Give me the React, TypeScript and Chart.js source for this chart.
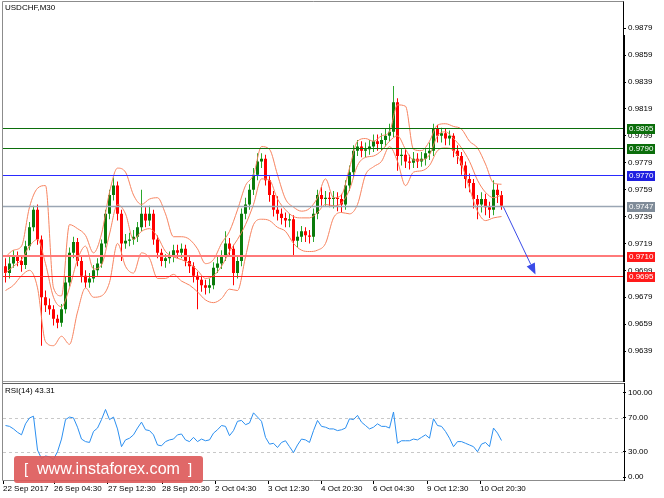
import React, { useEffect, useRef } from 'react';
import { Chart, registerables } from 'chart.js';

Chart.register(...registerables);

const SYMBOL_TITLE = 'USDCHF,M30';
const RSI_TITLE = 'RSI(14) 43.31';

const OPENS = [
  0.9702, 0.9697, 0.9704, 0.9709, 0.9706, 0.9703, 0.9717, 0.9731, 0.9744, 0.9722,
  0.9679, 0.9673, 0.9670, 0.9663, 0.9660, 0.9670, 0.9690, 0.9712, 0.9720, 0.9706,
  0.9695, 0.9690, 0.9693, 0.9699, 0.9704, 0.9719, 0.9741, 0.9755, 0.9762, 0.9741,
  0.9719, 0.9721, 0.9722, 0.9724, 0.9731, 0.9741, 0.9736, 0.9741, 0.9722, 0.9712,
  0.9706, 0.9708, 0.9709, 0.9714, 0.9712, 0.9715, 0.9706, 0.9702, 0.9695, 0.9692,
  0.9688, 0.9686, 0.9688, 0.9701, 0.9704, 0.9709, 0.9719, 0.9715, 0.9697, 0.9706,
  0.9741, 0.9748, 0.9759, 0.9770, 0.9780, 0.9782, 0.9766, 0.9755, 0.9744, 0.9741,
  0.9738, 0.9736, 0.9737, 0.9721, 0.9724, 0.9728, 0.9725, 0.9724, 0.9741, 0.9755,
  0.9752, 0.9753, 0.9752, 0.9753, 0.9752, 0.9748, 0.9762, 0.9772, 0.9788, 0.9791,
  0.9788, 0.9789, 0.9791, 0.9795, 0.9793, 0.9796, 0.9799, 0.9802, 0.9824, 0.9784,
  0.9785, 0.9780, 0.9779, 0.9782, 0.9780, 0.9782, 0.9786, 0.9788, 0.9804, 0.9799,
  0.9801, 0.9797, 0.9799, 0.9788, 0.9784, 0.9777, 0.9767, 0.9764, 0.9752, 0.9748,
  0.9752, 0.9746, 0.9744, 0.9759, 0.9755,
];
const HIGHS = [
  0.9708, 0.9709, 0.9714, 0.9713, 0.9709, 0.9721, 0.9735, 0.9747, 0.9748, 0.9725,
  0.9684, 0.9678, 0.9673, 0.9666, 0.9674, 0.9694, 0.9716, 0.9724, 0.9723, 0.9709,
  0.9699, 0.9697, 0.9703, 0.9708, 0.9722, 0.9744, 0.9759, 0.9768, 0.9765, 0.9744,
  0.9726, 0.9727, 0.9729, 0.9735, 0.9759, 0.9746, 0.9747, 0.9744, 0.9725, 0.9715,
  0.9711, 0.9713, 0.9718, 0.9718, 0.9719, 0.9718, 0.9710, 0.9705, 0.9698, 0.9695,
  0.9692, 0.9693, 0.9705, 0.9709, 0.9714, 0.9728, 0.9723, 0.9718, 0.9710, 0.9745,
  0.9753, 0.9763, 0.9775, 0.9786, 0.9786, 0.9785, 0.9769, 0.9758, 0.9754, 0.9745,
  0.9742, 0.9741, 0.9740, 0.9728, 0.9732, 0.9731, 0.9729, 0.9745, 0.9759, 0.9761,
  0.9758, 0.9757, 0.9758, 0.9757, 0.9756, 0.9766, 0.9777, 0.9792, 0.9796, 0.9795,
  0.9794, 0.9796, 0.9800, 0.9800, 0.9801, 0.9804, 0.9808, 0.9836, 0.9827, 0.9790,
  0.9789, 0.9785, 0.9787, 0.9786, 0.9787, 0.9790, 0.9794, 0.9808, 0.9807, 0.9805,
  0.9804, 0.9803, 0.9801, 0.9792, 0.9787, 0.9780, 0.9771, 0.9767, 0.9755, 0.9757,
  0.9756, 0.9750, 0.9766, 0.9763, 0.9758,
];
const LOWS = [
  0.9690, 0.9693, 0.9701, 0.9702, 0.9698, 0.9700, 0.9714, 0.9728, 0.9718, 0.9643,
  0.9668, 0.9666, 0.9658, 0.9656, 0.9657, 0.9667, 0.9687, 0.9708, 0.9702, 0.9690,
  0.9686, 0.9686, 0.9690, 0.9695, 0.9701, 0.9716, 0.9737, 0.9751, 0.9736, 0.9706,
  0.9715, 0.9717, 0.9718, 0.9720, 0.9728, 0.9731, 0.9732, 0.9718, 0.9708, 0.9702,
  0.9701, 0.9704, 0.9705, 0.9708, 0.9708, 0.9702, 0.9697, 0.9690, 0.9670, 0.9683,
  0.9681, 0.9682, 0.9685, 0.9697, 0.9700, 0.9706, 0.9710, 0.9688, 0.9693, 0.9702,
  0.9737, 0.9744, 0.9755, 0.9766, 0.9775, 0.9762, 0.9750, 0.9739, 0.9736, 0.9733,
  0.9731, 0.9731, 0.9710, 0.9716, 0.9720, 0.9720, 0.9719, 0.9720, 0.9737, 0.9747,
  0.9747, 0.9746, 0.9745, 0.9743, 0.9742, 0.9744, 0.9758, 0.9768, 0.9784, 0.9783,
  0.9783, 0.9785, 0.9787, 0.9788, 0.9788, 0.9791, 0.9795, 0.9798, 0.9773, 0.9777,
  0.9775, 0.9774, 0.9775, 0.9775, 0.9776, 0.9777, 0.9781, 0.9784, 0.9794, 0.9794,
  0.9792, 0.9792, 0.9783, 0.9778, 0.9770, 0.9760, 0.9757, 0.9745, 0.9737, 0.9742,
  0.9740, 0.9738, 0.9740, 0.9749, 0.9744,
];
const CLOSES = [
  0.9697, 0.9704, 0.9709, 0.9706, 0.9703, 0.9717, 0.9731, 0.9744, 0.9722, 0.9679,
  0.9673, 0.9670, 0.9663, 0.9660, 0.9670, 0.9690, 0.9712, 0.9720, 0.9706, 0.9695,
  0.9690, 0.9693, 0.9699, 0.9704, 0.9719, 0.9741, 0.9755, 0.9762, 0.9741, 0.9719,
  0.9721, 0.9722, 0.9724, 0.9731, 0.9741, 0.9736, 0.9741, 0.9722, 0.9712, 0.9706,
  0.9708, 0.9709, 0.9714, 0.9712, 0.9715, 0.9706, 0.9702, 0.9695, 0.9692, 0.9688,
  0.9686, 0.9688, 0.9701, 0.9704, 0.9709, 0.9719, 0.9715, 0.9697, 0.9706, 0.9741,
  0.9748, 0.9759, 0.9770, 0.9780, 0.9782, 0.9766, 0.9755, 0.9744, 0.9741, 0.9738,
  0.9736, 0.9737, 0.9721, 0.9724, 0.9728, 0.9725, 0.9724, 0.9741, 0.9755, 0.9752,
  0.9753, 0.9752, 0.9753, 0.9752, 0.9748, 0.9762, 0.9772, 0.9788, 0.9791, 0.9788,
  0.9789, 0.9791, 0.9795, 0.9793, 0.9796, 0.9799, 0.9802, 0.9824, 0.9784, 0.9785,
  0.9780, 0.9779, 0.9782, 0.9780, 0.9782, 0.9786, 0.9788, 0.9804, 0.9799, 0.9801,
  0.9797, 0.9799, 0.9788, 0.9784, 0.9777, 0.9767, 0.9764, 0.9752, 0.9748, 0.9752,
  0.9746, 0.9744, 0.9759, 0.9755, 0.9747,
];

// Bollinger bands, one reading every second candle
const BB_UPPER = [
  0.9709, 0.9714, 0.9717, 0.9746, 0.9760, 0.9762, 0.9686, 0.9680, 0.9733, 0.9730,
  0.9725, 0.9712, 0.9726, 0.9757, 0.9775, 0.9772, 0.9755, 0.9748, 0.9752, 0.9753,
  0.9741, 0.9724, 0.9724, 0.9722, 0.9715, 0.9704, 0.9707, 0.9719, 0.9728, 0.9744,
  0.9762, 0.9770, 0.9791, 0.9789, 0.9770, 0.9752, 0.9746, 0.9743, 0.9745, 0.9753,
  0.9767, 0.9753, 0.9755, 0.9775, 0.9795, 0.9797, 0.9795, 0.9799, 0.9802, 0.9822,
  0.9821, 0.9789, 0.9788, 0.9795, 0.9807, 0.9808, 0.9806, 0.9804, 0.9795, 0.9790,
  0.9778, 0.9764, 0.9763,
];
const BB_MIDDLE = [
  0.9697, 0.9702, 0.9707, 0.9717, 0.9722, 0.9704, 0.9679, 0.9672, 0.9686, 0.9707,
  0.9717, 0.9700, 0.9703, 0.9726, 0.9748, 0.9741, 0.9722, 0.9728, 0.9730, 0.9724,
  0.9713, 0.9709, 0.9707, 0.9704, 0.9699, 0.9693, 0.9695, 0.9702, 0.9713, 0.9722,
  0.9733, 0.9748, 0.9767, 0.9766, 0.9752, 0.9744, 0.9739, 0.9738, 0.9738, 0.9742,
  0.9748, 0.9747, 0.9749, 0.9759, 0.9777, 0.9783, 0.9784, 0.9788, 0.9795, 0.9799,
  0.9789, 0.9781, 0.9781, 0.9785, 0.9799, 0.9802, 0.9797, 0.9790, 0.9780, 0.9766,
  0.9757, 0.9753, 0.9755,
];
const BB_LOWER = [
  0.9684, 0.9688, 0.9695, 0.9699, 0.9686, 0.9646, 0.9643, 0.9650, 0.9644, 0.9668,
  0.9686, 0.9679, 0.9680, 0.9690, 0.9719, 0.9702, 0.9697, 0.9712, 0.9708, 0.9693,
  0.9693, 0.9696, 0.9691, 0.9688, 0.9683, 0.9677, 0.9675, 0.9678, 0.9685, 0.9684,
  0.9709, 0.9733, 0.9737, 0.9736, 0.9731, 0.9728, 0.9719, 0.9714, 0.9713, 0.9714,
  0.9719, 0.9738, 0.9742, 0.9741, 0.9748, 0.9770, 0.9776, 0.9780, 0.9791, 0.9780,
  0.9762, 0.9772, 0.9773, 0.9777, 0.9788, 0.9790, 0.9788, 0.9778, 0.9760, 0.9743,
  0.9736, 0.9738, 0.9739,
];

const RSI = [
  61, 60, 57, 53, 50, 63, 70, 72, 32, 22,
  25, 24, 21, 30, 45, 68, 71, 70, 59, 45,
  42, 41, 54, 58, 68, 80, 68, 71, 57, 36,
  44, 46, 50, 58, 65, 56, 55, 50, 38, 37,
  42, 44, 45, 50, 51, 44, 42, 47, 42, 45,
  43, 44, 52, 56, 61, 60, 49, 55, 66, 67,
  62, 64, 76, 71, 66, 47, 39, 40, 35, 41,
  43, 36, 29, 38, 45, 44, 41, 55, 67, 60,
  59, 57, 57, 55, 56, 58, 69, 68, 73, 65,
  61, 57, 59, 63, 60, 60, 58, 77, 40, 43,
  43, 43, 45, 44, 47, 50, 46, 69, 61, 60,
  54, 46, 36, 42, 42, 40, 38, 36, 30, 39,
  41, 36, 58, 52, 43.31,
];

const PRICE_TICKS = [0.9879, 0.9859, 0.9839, 0.9819, 0.9799, 0.9779, 0.9759, 0.9739, 0.9719, 0.9699, 0.9679, 0.9659, 0.9639];
const RSI_TICKS = [0, 30, 70, 100];
const RSI_GUIDES = [30, 70];
const TIME_LABELS = ['22 Sep 2017', '26 Sep 04:30', '27 Sep 12:30', '28 Sep 20:30', '2 Oct 04:30', '3 Oct 12:30', '4 Oct 20:30', '6 Oct 04:30', '9 Oct 12:30', '10 Oct 20:30'];
const TIME_TICK_INDEX = [-0.625, 12.125, 25.625, 39.125, 52.375, 65.625, 78.875, 91.875, 105.375, 118.625];

const LEVEL_PRICES = [0.9805, 0.9790, 0.9770, 0.9747, 0.9710, 0.9695];
const ARROW_FROM = [124.5, 0.9746];
const ARROW_TO = [132.5, 0.9696];

// axis ranges
const X_MIN = -0.625;
const X_MAX = 154.375;
const PRICE_MIN = 0.96203;
const PRICE_MAX = 0.989494;
const RSI_MIN = -3.4;
const RSI_MAX = 105.6;

// styles
const FONT = '"Liberation Sans", Arial, sans-serif';
const LEVEL_STYLES = [
  { line: '#0b6e0b', box: '#0b6e0b', width: 1 },
  { line: '#0b6e0b', box: '#0b6e0b', width: 1 },
  { line: '#2a2aff', box: '#1f1fe0', width: 1 },
  { line: '#9aa6b4', box: '#7f8b98', width: 1.5 },
  { line: '#ff7a7a', box: '#ff1a1a', width: 2 },
  { line: '#ff2020', box: '#ff1a1a', width: 1 },
];
const BULL_BODY = '#0b7a0b';
const BULL_WICK = '#2ca82c';
const BEAR = '#ff0000';
const BAND_COLOR = '#f7835f';
const RSI_COLOR = '#2b8ff0';

function MainChart() {
  const ref = useRef<HTMLCanvasElement | null>(null);
  useEffect(() => {
    const canvas = ref.current;
    if (!canvas) return;
    const up = CLOSES.map((c, i) => c >= OPENS[i]);
    const wickData = CLOSES.map((c, i) => ({ x: i, y: [LOWS[i], HIGHS[i]] }));
    const bodyData = CLOSES.map((c, i) => ({ x: i, y: [OPENS[i], c] }));
    const band = (arr: number[]) => arr.map((v, k) => ({ x: k * 2, y: v }));
    const lineDs = (arr: number[]) => ({
      type: 'line' as const,
      data: band(arr),
      borderColor: BAND_COLOR,
      borderWidth: 1,
      pointRadius: 0,
      cubicInterpolationMode: 'monotone' as const,
      order: 0,
    });

    const overlay = {
      id: 'mainOverlay',
      afterDatasetsDraw(chart: any) {
        const { ctx, chartArea: a, scales } = chart;
        const xs = scales.x;
        const ys = scales.y;
        ctx.save();
        ctx.beginPath();
        ctx.rect(a.left, a.top, a.right - a.left, a.bottom - a.top);
        ctx.clip();
        LEVEL_PRICES.forEach((p, i) => {
          const st = LEVEL_STYLES[i];
          const py = Math.round(ys.getPixelForValue(p)) + (st.width === 2 ? 0 : 0.5);
          ctx.strokeStyle = st.line;
          ctx.lineWidth = st.width;
          ctx.beginPath();
          ctx.moveTo(a.left, py);
          ctx.lineTo(a.right, py);
          ctx.stroke();
        });
        // arrow
        const x0 = xs.getPixelForValue(ARROW_FROM[0]);
        const y0 = ys.getPixelForValue(ARROW_FROM[1]);
        const x1 = xs.getPixelForValue(ARROW_TO[0]);
        const y1 = ys.getPixelForValue(ARROW_TO[1]);
        const ang = Math.atan2(y1 - y0, x1 - x0);
        const hl = 11;
        const hw = 4.5;
        const bx = x1 - hl * Math.cos(ang);
        const by = y1 - hl * Math.sin(ang);
        ctx.strokeStyle = '#3a4be8';
        ctx.fillStyle = '#3a4be8';
        ctx.lineWidth = 1;
        ctx.beginPath();
        ctx.moveTo(x0, y0);
        ctx.lineTo(bx, by);
        ctx.stroke();
        ctx.beginPath();
        ctx.moveTo(x1, y1);
        ctx.lineTo(bx + hw * Math.sin(ang), by - hw * Math.cos(ang));
        ctx.lineTo(bx - hw * Math.sin(ang), by + hw * Math.cos(ang));
        ctx.closePath();
        ctx.fill();
        ctx.restore();
      },
      afterDraw(chart: any) {
        const { ctx, chartArea: a, scales } = chart;
        const ys = scales.y;
        ctx.save();
        // frame
        ctx.strokeStyle = '#8c8c8c';
        ctx.lineWidth = 1;
        ctx.beginPath();
        ctx.moveTo(2.5, 381.5);
        ctx.lineTo(2.5, 1.5);
        ctx.lineTo(a.right + 1, 1.5);
        ctx.stroke();
        ctx.strokeStyle = '#a0a0a0';
        ctx.beginPath();
        ctx.moveTo(2, 381.5);
        ctx.lineTo(a.right + 1, 381.5);
        ctx.stroke();
        ctx.strokeStyle = '#000';
        ctx.beginPath();
        ctx.moveTo(a.right + 0.5, 1.5);
        ctx.lineTo(a.right + 0.5, 35);
        ctx.stroke();
        ctx.lineWidth = 2;
        ctx.beginPath();
        ctx.moveTo(a.right + 1, 35);
        ctx.lineTo(a.right + 1, 382);
        ctx.stroke();
        // level boxes
        ctx.font = `8px ${FONT}`;
        ctx.textBaseline = 'middle';
        ctx.textAlign = 'left';
        LEVEL_PRICES.forEach((p, i) => {
          const st = LEVEL_STYLES[i];
          const py = Math.round(ys.getPixelForValue(p));
          ctx.fillStyle = st.box;
          ctx.fillRect(a.right + 4, py - 4, 28, 10);
          ctx.fillStyle = '#ffffff';
          ctx.fillText(p.toFixed(4), a.right + 6, py + 1);
        });
        // title
        ctx.fillStyle = '#000';
        ctx.textBaseline = 'top';
        ctx.fillText(SYMBOL_TITLE, 5, 4);
        ctx.restore();
      },
    };

    const chart = new Chart(canvas, {
      type: 'bar',
      data: {
        datasets: [
          lineDs(BB_UPPER),
          lineDs(BB_MIDDLE),
          lineDs(BB_LOWER),
          {
            type: 'bar',
            data: bodyData as any,
            backgroundColor: up.map((u) => (u ? BULL_BODY : BEAR)),
            borderWidth: 0,
            barThickness: 3,
            grouped: false,
            inflateAmount: 0,
            order: 1,
          } as any,
          {
            type: 'bar',
            data: wickData as any,
            backgroundColor: up.map((u) => (u ? BULL_WICK : BEAR)),
            borderWidth: 0,
            barThickness: 1,
            grouped: false,
            inflateAmount: 0,
            order: 2,
          } as any,
        ],
      },
      options: {
        responsive: false,
        maintainAspectRatio: false,
        animation: false,
        devicePixelRatio: 1,
        events: [],
        layout: { padding: { left: 3, right: 0, top: 2, bottom: 2 } },
        plugins: { legend: { display: false }, tooltip: { enabled: false } },
        scales: {
          x: { type: 'linear', min: X_MIN, max: X_MAX, display: false, offset: false },
          y: {
            position: 'right',
            min: PRICE_MIN,
            max: PRICE_MAX,
            afterFit: (s: any) => { s.width = 41; },
            afterBuildTicks: (s: any) => { s.ticks = PRICE_TICKS.map((v) => ({ value: v })); },
            ticks: {
              autoSkip: false,
              padding: 2,
              color: '#000',
              font: { size: 8, family: FONT },
              callback: (v: any) => Number(v).toFixed(4),
            },
            grid: { drawOnChartArea: false, drawTicks: true, tickLength: 3, color: '#000' },
            border: { display: false },
          },
        },
      } as any,
      plugins: [overlay],
    });
    return () => chart.destroy();
  }, []);
  return (
    <canvas
      ref={ref}
      width={664}
      height={383}
      style={{ position: 'absolute', left: 0, top: 0, width: 664, height: 383 }}
    />
  );
}

function RsiChart() {
  const ref = useRef<HTMLCanvasElement | null>(null);
  useEffect(() => {
    const canvas = ref.current;
    if (!canvas) return;
    const overlay = {
      id: 'rsiOverlay',
      beforeDatasetsDraw(chart: any) {
        const { ctx, chartArea: a, scales } = chart;
        ctx.save();
        ctx.strokeStyle = '#c8c8c8';
        ctx.lineWidth = 1;
        ctx.setLineDash([3, 3]);
        RSI_GUIDES.forEach((v) => {
          const py = Math.round(scales.y.getPixelForValue(v)) + 0.5;
          ctx.beginPath();
          ctx.moveTo(a.left, py);
          ctx.lineTo(a.right, py);
          ctx.stroke();
        });
        ctx.restore();
      },
      afterDraw(chart: any) {
        const { ctx, chartArea: a } = chart;
        ctx.save();
        ctx.strokeStyle = '#606060';
        ctx.lineWidth = 1;
        ctx.beginPath();
        ctx.moveTo(2, 2.5);
        ctx.lineTo(a.right + 1, 2.5);
        ctx.stroke();
        ctx.strokeStyle = '#8c8c8c';
        ctx.beginPath();
        ctx.moveTo(2.5, 0);
        ctx.lineTo(2.5, a.bottom + 0.5);
        ctx.lineTo(a.right + 1.5, a.bottom + 0.5);
        ctx.stroke();
        ctx.strokeStyle = '#000';
        ctx.beginPath();
        ctx.moveTo(a.right + 1.5, 2);
        ctx.lineTo(a.right + 1.5, a.bottom + 1);
        ctx.stroke();
        ctx.fillStyle = '#000';
        ctx.font = `8px ${FONT}`;
        ctx.textBaseline = 'top';
        ctx.textAlign = 'left';
        ctx.fillText(RSI_TITLE, 5, 6);
        // watermark
        const wx = 14, wy = 75, ww = 189, wh = 27, r = 3;
        ctx.fillStyle = 'rgba(221, 88, 88, 0.9)';
        ctx.beginPath();
        ctx.moveTo(wx + r, wy);
        ctx.lineTo(wx + ww - r, wy);
        ctx.quadraticCurveTo(wx + ww, wy, wx + ww, wy + r);
        ctx.lineTo(wx + ww, wy + wh - r);
        ctx.quadraticCurveTo(wx + ww, wy + wh, wx + ww - r, wy + wh);
        ctx.lineTo(wx + r, wy + wh);
        ctx.quadraticCurveTo(wx, wy + wh, wx, wy + wh - r);
        ctx.lineTo(wx, wy + r);
        ctx.quadraticCurveTo(wx, wy, wx + r, wy);
        ctx.closePath();
        ctx.fill();
        ctx.fillStyle = '#ffffff';
        ctx.textBaseline = 'middle';
        ctx.font = `16px ${FONT}`;
        const text = 'www.instaforex.com';
        const w = ctx.measureText(text).width;
        const size = 16 * 143 / w;
        ctx.font = `${size.toFixed(2)}px ${FONT}`;
        ctx.fillText(text, 37, wy + 14);
        ctx.font = `15px ${FONT}`;
        ctx.fillText('[', 24, wy + 14);
        ctx.fillText(']', 188, wy + 14);
        ctx.restore();
      },
    };
    const chart = new Chart(canvas, {
      type: 'line',
      data: {
        datasets: [
          {
            data: RSI.map((v, i) => ({ x: i, y: v })),
            borderColor: RSI_COLOR,
            borderWidth: 1,
            pointRadius: 0,
            tension: 0,
          },
        ],
      },
      options: {
        responsive: false,
        maintainAspectRatio: false,
        animation: false,
        devicePixelRatio: 1,
        events: [],
        layout: { padding: { left: 3, right: 0, top: 2, bottom: 0 } },
        plugins: { legend: { display: false }, tooltip: { enabled: false } },
        scales: {
          x: {
            type: 'linear',
            min: X_MIN,
            max: X_MAX,
            offset: false,
            afterFit: (s: any) => { s.height = 18; },
            afterBuildTicks: (s: any) => { s.ticks = TIME_TICK_INDEX.map((v) => ({ value: v })); },
            ticks: {
              autoSkip: false,
              maxRotation: 0,
              align: 'start',
              padding: 0,
              color: '#000',
              font: { size: 8, family: FONT },
              callback: (_v: any, idx: number) => TIME_LABELS[idx],
            },
            grid: { drawOnChartArea: false, drawTicks: true, tickLength: 4, color: '#000' },
            border: { display: false },
          },
          y: {
            position: 'right',
            min: RSI_MIN,
            max: RSI_MAX,
            afterFit: (s: any) => { s.width = 41; },
            afterBuildTicks: (s: any) => { s.ticks = RSI_TICKS.map((v) => ({ value: v })); },
            ticks: {
              autoSkip: false,
              padding: 2,
              color: '#000',
              font: { size: 8, family: FONT },
              callback: (v: any) => Number(v).toFixed(2),
            },
            grid: { drawOnChartArea: false, drawTicks: true, tickLength: 3, color: '#000' },
            border: { display: false },
          },
        },
      } as any,
      plugins: [overlay],
    });
    return () => chart.destroy();
  }, []);
  return (
    <canvas
      ref={ref}
      width={664}
      height={117}
      style={{ position: 'absolute', left: 0, top: 381, width: 664, height: 117 }}
    />
  );
}

export default function App() {
  return (
    <div style={{ position: 'absolute', left: 0, top: 0, width: 664, height: 498, background: '#ffffff', overflow: 'hidden' }}>
      <MainChart />
      <RsiChart />
    </div>
  );
}
